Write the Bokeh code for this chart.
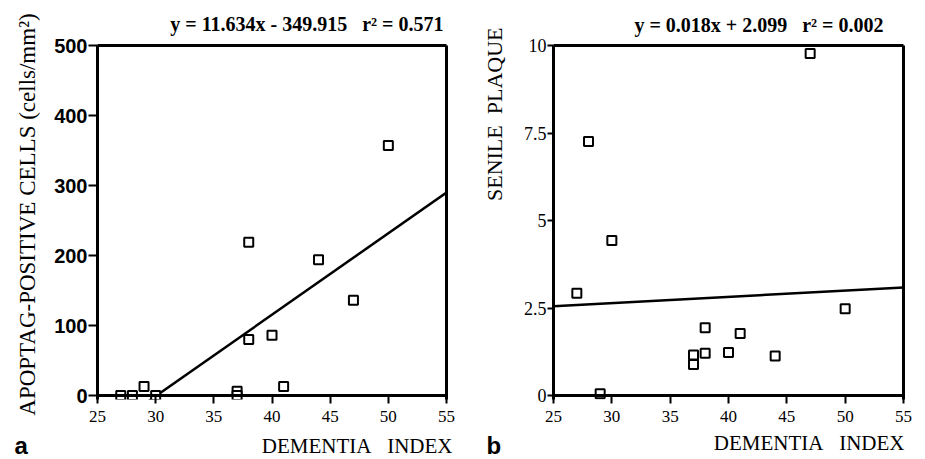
import math
from bokeh.plotting import figure
from bokeh.layouts import row
from bokeh.models import Range1d, FixedTicker, Label, Span, LinearAxis
from bokeh.embed import file_html
from bokeh.resources import INLINE

# ---- data ----
DEMENTIA_INDEX = [27, 28, 29, 30, 37, 37, 38, 38, 40, 41, 44, 47, 50]
APOPTAG_CELLS = [0, 0, 13, 0, 6, 0, 219, 80, 86, 13, 194, 136, 357]
SENILE_PLAQUE = [2.92, 7.26, 0.05, 4.43, 1.16, 0.89, 1.94, 1.21, 1.23, 1.77, 1.13, 9.77, 2.48]

FIT_A = (11.634, -349.915, 0.571)   # slope, intercept, r^2
FIT_B = (0.018, 2.099, 0.002)

X_TICKS = [25, 30, 35, 40, 45, 50, 55]
Y_TICKS_A = [0, 100, 200, 300, 400, 500]
Y_TICKS_B = [0, 2.5, 5, 7.5, 10]
Y_TICK_LABELS_B = ["0", "2.5", "5", "7.5", "10"]

SERIF = "Liberation Serif"
SANS = "Liberation Sans"
PAD = 4  # px of frame below the zero line
NB = "\u00a0"


def make_panel(width, height, borders, ymax, yticks, ytick_font, ytick_style, ytick_size, ytick_len):
    left, right, top, bottom = borders
    frame_h = height - top - bottom
    ypad = PAD * ymax / (frame_h - PAD)
    p = figure(width=width, height=height, output_backend="svg", toolbar_location=None,
               x_range=Range1d(25, 55), y_range=Range1d(-ypad, ymax),
               min_border_left=left, min_border_right=right,
               min_border_top=top, min_border_bottom=bottom)
    p.grid.visible = False
    p.background_fill_color = "white"
    p.border_fill_color = "white"
    p.outline_line_color = None
    for ax in (p.xaxis[0], p.yaxis[0]):
        ax.axis_line_width = 3
        ax.axis_line_color = "black"
        ax.major_tick_line_width = 2
        ax.minor_tick_line_color = None
        ax.major_label_text_color = "black"
    # x axis: line drawn at zero (Span), ticks start at zero
    p.xaxis.axis_line_color = None
    p.xaxis.ticker = FixedTicker(ticks=X_TICKS)
    p.xaxis.major_tick_in = PAD
    p.xaxis.major_tick_out = 4
    p.xaxis.major_label_text_font = SERIF
    p.xaxis.major_label_text_font_size = "17px"
    p.xaxis.major_label_standoff = 7
    p.yaxis.ticker = FixedTicker(ticks=yticks)
    p.yaxis.major_tick_in = 0
    p.yaxis.major_tick_out = ytick_len
    p.yaxis.major_label_text_font = ytick_font
    p.yaxis.major_label_text_font_style = ytick_style
    p.yaxis.major_label_text_font_size = ytick_size
    p.yaxis.major_label_standoff = 1
    p.add_layout(Span(location=0, dimension="width", line_color="black", line_width=3))
    for side in ("above", "right"):
        ax = LinearAxis(ticker=FixedTicker(ticks=[]), axis_line_width=3,
                        major_tick_line_color=None, minor_tick_line_color=None,
                        major_tick_out=0, major_tick_in=0, major_label_standoff=0,
                        major_label_text_font_size="0px")
        p.add_layout(ax, side)
    return p


def add_fit(p, ys, fit):
    slope, intercept, _ = fit
    xs = [25, 55]
    p.line(xs, [slope * x + intercept for x in xs], line_color="black", line_width=2.5)
    p.scatter(DEMENTIA_INDEX, ys, marker="square", size=9, line_color="black",
              line_width=2, fill_color="white")


def txt(**kw):
    kw.setdefault("text_color", "black")
    return Label(**kw)


# ---- panel a ----
pa = make_panel(462, 459, (97, 16, 43, 60), 500, Y_TICKS_A, SANS, "bold", "20px", 9)
add_fit(pa, APOPTAG_CELLS, FIT_A)
pa.add_layout(txt(x=55, y=500, x_offset=-3, y_offset=22,
                  text=("y = %.3fx - %.3f" + NB * 3 + "r² = %.3f") % (FIT_A[0], -FIT_A[1], FIT_A[2]),
                  text_font=SERIF, text_font_style="bold", text_font_size="20px",
                  text_align="right", text_baseline="alphabetic"), "above")
pa.add_layout(txt(x=25, y=250, x_offset=-70, y_offset=6, angle=math.pi / 2,
                  text="APOPTAG-POSITIVE CELLS (cells/mm²)",
                  text_font=SERIF, text_font_size="23px",
                  text_align="center", text_baseline="alphabetic"), "left")
pa.add_layout(txt(x=25, y=0, x_offset=-83, y_offset=-50, text="a",
                  text_font=SANS, text_font_style="bold", text_font_size="24px",
                  text_align="left", text_baseline="alphabetic"), "left")
pa.add_layout(txt(x=55, y=0, x_offset=6, y_offset=-50, text="DEMENTIA" + NB * 3 + "INDEX",
                  text_font=SERIF, text_font_size="21px",
                  text_align="right", text_baseline="alphabetic"), "below")

# ---- panel b ----
pb = make_panel(463, 459, (91, 22, 45, 57), 10, Y_TICKS_B, SERIF, "normal", "18px", 6)
pb.yaxis.major_label_overrides = dict(zip(Y_TICKS_B, Y_TICK_LABELS_B))
add_fit(pb, SENILE_PLAQUE, FIT_B)
pb.add_layout(txt(x=55, y=10, x_offset=-20, y_offset=21,
                  text=("y = %.3fx + %.3f" + NB * 3 + "r² = %.3f") % FIT_B,
                  text_font=SERIF, text_font_style="bold", text_font_size="20px",
                  text_align="right", text_baseline="alphabetic"), "above")
pb.add_layout(txt(x=25, y=10, x_offset=-59, y_offset=18, angle=math.pi / 2,
                  text="SENILE" + NB * 2 + "PLAQUE",
                  text_font=SERIF, text_font_size="22px",
                  text_align="right", text_baseline="alphabetic"), "left")
pb.add_layout(txt(x=25, y=0, x_offset=-67, y_offset=-50, text="b",
                  text_font=SANS, text_font_style="bold", text_font_size="24px",
                  text_align="left", text_baseline="alphabetic"), "left")
pb.add_layout(txt(x=55, y=0, x_offset=1, y_offset=-47, text="DEMENTIA" + NB * 3 + "INDEX",
                  text_font=SERIF, text_font_size="21px",
                  text_align="right", text_baseline="alphabetic"), "below")

layout = row(pa, pb)
open("out.html", "w").write(file_html(layout, INLINE))
